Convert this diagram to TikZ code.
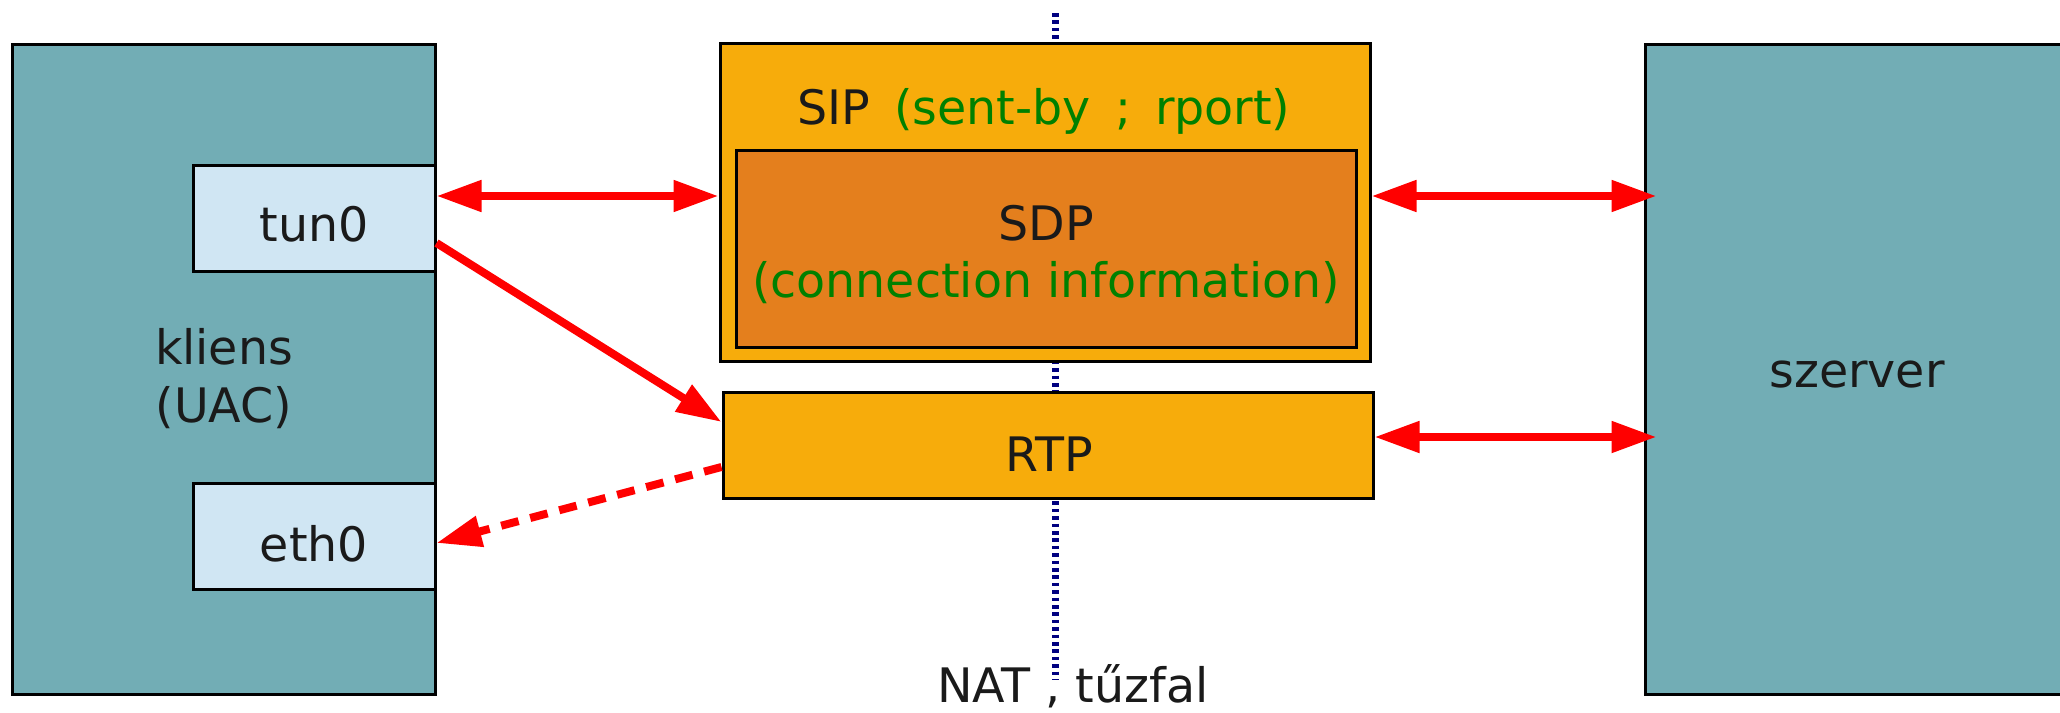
\documentclass[tikz,border=0pt]{standalone}
\usepackage{fontspec}
\setmainfont{DejaVu Sans}
\usetikzlibrary{arrows.meta,calc}
\definecolor{teal}{HTML}{72ADB5}
\definecolor{ifblue}{HTML}{D0E6F3}
\definecolor{sipor}{HTML}{F7AC0B}
\definecolor{sdpor}{HTML}{E47F1D}
\definecolor{txtdark}{HTML}{1A1A1A}
\definecolor{txtgreen}{HTML}{008000}
\definecolor{natblue}{HTML}{000080}
\tikzset{
  box/.style={draw=black, line width=1.5pt, inner sep=0pt, rectangle},
  lbl/.style={anchor=base, inner sep=0pt, text=txtdark, font=\fontsize{23.75pt}{28.5pt}\selectfont},
  biarrow/.style={draw=red, line width=4pt, {Triangle[length=22.5pt,width=15pt]}-{Triangle[length=22.5pt,width=15pt]}},
  onearrow/.style={draw=red, line width=4pt, -{Triangle[length=22.5pt,width=15pt]}},
  dasharrow/.style={onearrow, dash pattern=on 9pt off 6pt},
  natline/.style={draw=natblue, line width=3.5pt, dash pattern=on 1.8pt off 1.9pt}
}
\begin{document}
\begin{tikzpicture}[x=0.5pt,y=-0.5pt]
\clip (0,0) rectangle (2060,712);
\fill[white] (0,0) rectangle (2060,712);
% NAT / firewall line
\coordinate (nattop) at (1055,13);
\coordinate (natbot) at (1055,680);
\draw[natline] (nattop) -- (natbot);
% boxes
\node[box, fill=teal, minimum width=211.5pt, minimum height=325pt] (cli) at (223.5,369) {};
\node[box, fill=ifblue, minimum width=121pt, minimum height=53pt] (tun) at (314,218) {};
\node[box, fill=ifblue, minimum width=121pt, minimum height=53pt] (eth) at (314,536) {};
\node[box, fill=sipor, minimum width=325pt, minimum height=159pt] (sip) at (1045,202) {};
\node[box, fill=sdpor, minimum width=310pt, minimum height=98.5pt] (sdp) at (1046,248.5) {};
\node[box, fill=sipor, minimum width=325pt, minimum height=53pt] (rtp) at (1048,445) {};
\node[box, fill=teal, minimum width=215pt, minimum height=325pt] (srv) at (1860,369) {};
% labels
\node[lbl] (tuntxt) at (314,241) {tun0};
\node[lbl] (ethtxt) at (314,561) {eth0};
\node[lbl] (klitxt) at (224,364) {kliens};
\node[lbl] (uactxt) at (224,422) {(UAC)};
\node[lbl] (siptxt) at (1044,124) {SIP\hspace{12pt}\textcolor{txtgreen}{(sent-by\hspace{12pt};\hspace{12pt}rport)}};
\node[lbl] (sdptxt) at (1046,240) {SDP};
\node[lbl, text=txtgreen] (cintxt) at (1046,297) {(connection information)};
\node[lbl] (rtptxt) at (1049,471) {RTP};
\node[lbl] (srvtxt) at (1857,387) {szerver};
\node[lbl] (nattxt) at (1073,702) {NAT , tűzfal};
% connectors
\coordinate (a1) at ($(tun.east)+(0,-22)$);
\draw[biarrow] (a1) -- (a1 -| sip.west);
\draw[biarrow] (a1 -| sip.east) -- ($(a1 -| srv.west)+(13,0)$);
\coordinate (a3) at ($(rtp.east)+(0,-8)$);
\draw[biarrow] (a3) -- ($(a3 -| srv.west)+(13,0)$);
\draw[onearrow] ($(tun.east)+(0,25)$) -- ($(rtp.west)+(0,-23)$);
\draw[dasharrow] ($(rtp.west)+(0,22)$) -- ($(eth.east)+(0,7)$);
\end{tikzpicture}
\end{document}
